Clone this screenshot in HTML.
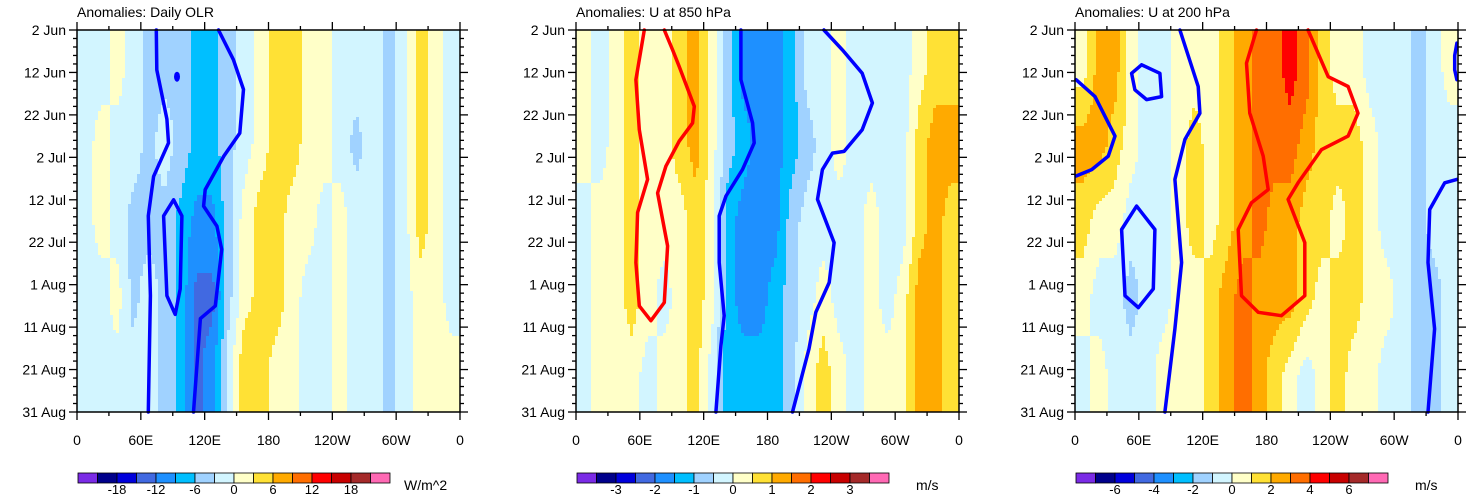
<!DOCTYPE html>
<html><head><meta charset="utf-8">
<style>
html,body{margin:0;padding:0;background:#fff;}
svg{display:block;font-family:"Liberation Sans",sans-serif;}
</style></head>
<body>
<svg id="chart" width="1473" height="498" viewBox="0 0 1473 498"></svg>
<script>
// ---- data ----
const dayTickLabels = ["2 Jun","12 Jun","22 Jun","2 Jul","12 Jul","22 Jul","1 Aug","11 Aug","21 Aug","31 Aug"];
const dayTicks = [0,10,20,30,40,50,60,70,80,90];
const lonTickLabels = ["0","60E","120E","180","120W","60W","0"];
const lonTicks = [0,60,120,180,240,300,360];
const panelTitles = ["Anomalies: Daily OLR","Anomalies: U at 850 hPa","Anomalies: U at 200 hPa"];
const panelUnits = ["W/m^2","m/s","m/s"];
const levelLow = [-21,-3.5,-7];
const levelStep = [3,0.5,1];
const cbarLabels1 = ["-18","-12","-6","0","6","12","18"];
const cbarLabels2 = ["-3","-2","-1","0","1","2","3"];
const cbarLabels3 = ["-6","-4","-2","0","2","4","6"];
const cbarLabelIdx = [1,3,5,7,9,11,13];
const palette = ["#7b2be6","#00008b","#0000dc","#4169e1","#1e90ff","#00bfff","#a0d2ff","#d2f5ff","#ffffc8","#ffe135","#ffaa00","#ff6e00","#ff0000","#c80000","#a52a2a","#ff69b4"];
// grid: rows = time (centers at day 9,27,45,63,81), columns = longitude (centers 7.5,22.5,...)
const olr = [
[-1.5,-1.5,1.5,-1.5,-4,-4,-4,-7,-7,-4,-1.5,1.5,4.5,6,1.5,1.5,-1.5,-1.5,-1.5,-4,-1.5,4.5,1.5,-1.5],
[-1.5,1.5,-1.5,-1.5,-4,-1.5,-4,-7,-7,-4,-1.5,1.5,4.5,4.5,1.5,1.5,-1.5,-4,-1.5,-4,-1.5,4.5,1.5,-1.5],
[-1.5,1.5,-1.5,-4,-4,-4,-7,-10,-10,-4,1.5,4.5,4.5,1.5,1.5,-1.5,1.5,-1.5,-1.5,-4,-1.5,4.5,1.5,-1.5],
[-1.5,-1.5,1.5,-4,-1.5,-4,-7,-13,-13,-4,1.5,4.5,4.5,1.5,-1.5,-1.5,1.5,-1.5,-1.5,-4,-1.5,1.5,1.5,-1.5],
[-1.5,-1.5,-1.5,-1.5,-1.5,-4,-7,-13,-10,-1.5,6,4.5,1.5,1.5,-1.5,-1.5,1.5,-1.5,-1.5,-4,-1.5,1.5,1.5,1.5]];
const u850 = [
[0.25,-0.25,0.25,0.75,0.25,0.25,0.75,1.25,0.25,-0.75,-1.75,-1.75,-1.75,-1.25,-0.25,-0.25,0.25,-0.25,-0.25,-0.25,-0.25,0.25,0.75,0.75],
[0.25,-0.25,0.25,0.75,0.25,0.25,0.75,1.25,0.25,-0.75,-1.25,-1.75,-1.75,-1.25,-0.75,-0.25,0.25,-0.25,-0.25,-0.25,-0.25,0.75,1.25,1.25],
[-0.25,0.25,0.25,0.75,0.25,0.25,0.25,0.75,0.25,-1.25,-1.75,-1.75,-1.75,-0.75,-0.25,-0.25,-0.25,-0.25,0.25,-0.25,-0.25,0.75,1.25,0.75],
[-0.25,0.25,0.25,0.75,0.25,-0.25,0.25,0.75,0.25,-1.25,-1.75,-1.75,-1.25,-0.75,-0.25,0.25,-0.25,-0.25,0.25,-0.25,0.25,1.25,1.25,0.75],
[-0.25,0.25,0.25,0.25,-0.25,0.25,0.25,0.75,-0.25,-1.25,-1.25,-1.25,-1.25,-0.75,0.25,0.75,0.25,-0.25,0.25,0.25,0.25,1.25,1.25,0.75]];
const u200 = [
[0.5,2.5,2.5,0.5,-0.5,-0.5,0.5,0.5,0.5,1.5,2.5,3.5,3.5,4.5,3.5,1.5,0.5,0.5,-0.5,-0.5,-0.5,-1.5,-0.5,0.5],
[2.5,2.5,1.5,0.5,-0.5,-0.5,0.5,1.5,0.5,1.5,2.5,3.5,3.5,3.5,2.5,1.5,1.5,1.5,0.5,-0.5,-0.5,-1.5,-0.5,-0.5],
[1.5,0.5,0.5,-0.5,-0.5,-0.5,0.5,1.5,0.5,1.5,2.5,3.5,2.5,2.5,1.5,1.5,0.5,1.5,0.5,-0.5,-0.5,-1.5,-0.5,-0.5],
[0.5,-0.5,-0.5,-1.5,-0.5,-0.5,0.5,0.5,1.5,2.5,3.5,2.5,2.5,2.5,1.5,0.5,1.5,1.5,0.5,0.5,-0.5,-1.5,-1.5,-0.5],
[-0.5,0.5,-0.5,-0.5,-0.5,0.5,0.5,0.5,1.5,2.5,3.5,2.5,1.5,0.5,-0.5,0.5,1.5,0.5,0.5,-0.5,-0.5,-1.5,-1.5,-0.5]];
// contour lines: [lon, day] pairs
const olrContourA = [[74.5,0],[75,9.4],[84.5,21],[86,26.6],[72,34.5],[67,43.8],[69,62.6],[67,90]];
const olrContourB = [[133,0],[147,7],[156.5,14],[153,24.3],[138,29.7],[120.5,37.6],[119,41.5],[131.5,46.2],[136,51.7],[130,65],[116,68],[109.5,90]];
const olrContourC = [[90.8,40],[98.6,43.8],[97,61],[92.3,67],[84.5,62.6],[81.4,43.8],[90.8,40]];
const u850Red = [[64.2,0],[56.3,11.7],[59.5,23.5],[67.3,35.2],[57.9,43],[56.3,54.8],[59.5,65],[70.4,68.5],[83,64.2],[86.1,50.9],[76.7,38.4],[84.5,32.1],[97,26.2],[109.6,21.9],[111.2,18],[97,8.6],[90.8,4.7],[83,0]];
const u850Blue1 = [[155,0],[155,11.7],[166,21.9],[167.5,26.6],[156.5,32.9],[141,39.1],[134.6,43.8],[134.6,54.8],[139.3,67.3],[136.2,74.4],[131.5,90]];
const u850Blue2 = [[233,0],[250.4,4.7],[269,10.2],[278.6,17.2],[269,23.5],[252,28.6],[241,29],[231.6,32.9],[227,39.9],[242.6,50.1],[238,59.5],[225.4,66.5],[219,75.1],[203.5,90]];
const u200Red = [[170.6,0],[161.2,7.8],[164.3,19.6],[176.9,29.7],[181.6,37.6],[165.9,40.7],[153.4,47],[156.5,62.6],[172.2,66.5],[194,67.3],[216,62.6],[216,50.1],[200.3,39.9],[209.7,36],[231.6,28.2],[256.7,25],[266,19.6],[256.7,13.3],[238,11],[219,0]];
const u200BlueW = [[1,11.7],[18.8,15.7],[37.6,25],[31.3,29.7],[15.7,32.9],[1,34.4]];
const u200BlueSmall = [[62.6,8.2],[79.8,10.2],[81.4,15.7],[67.3,16.4],[56.3,14.1],[53.2,10.2],[62.6,8.2]];
const u200BlueOval = [[57.9,41.5],[75.1,47],[73.6,61],[59.5,65.4],[47,62.6],[43.8,47],[57.9,41.5]];
const u200BlueMid = [[98.6,0],[115.8,13.3],[117.4,19.6],[103.3,25.8],[93.9,35.2],[100.2,54.8],[93.9,70.4],[84.5,90]];
const u200BlueE = [[359,35.2],[347.5,36],[333.4,42.3],[331.8,54.8],[338,70.4],[331.8,90]];
const u200BlueNE = [[359,3.1],[356.9,6],[356.9,9.4],[359,11.7]];

const grids = [olr,u850,u200];
const cbarLabels = [cbarLabels1,cbarLabels2,cbarLabels3];
const contours = [
  [{pts:olrContourA,c:"#0000ff",n:"olr-contour-west"},{pts:olrContourB,c:"#0000ff",n:"olr-contour-east"},{pts:olrContourC,c:"#0000ff",n:"olr-contour-closed"}],
  [{pts:u850Red,c:"#ff0000",n:"u850-positive-contour"},{pts:u850Blue1,c:"#0000ff",n:"u850-negative-contour-west"},{pts:u850Blue2,c:"#0000ff",n:"u850-negative-contour-east"}],
  [{pts:u200Red,c:"#ff0000",n:"u200-positive-contour"},{pts:u200BlueW,c:"#0000ff",n:"u200-contour-edge"},{pts:u200BlueSmall,c:"#0000ff",n:"u200-contour-small"},{pts:u200BlueOval,c:"#0000ff",n:"u200-contour-oval"},{pts:u200BlueMid,c:"#0000ff",n:"u200-contour-mid"},{pts:u200BlueE,c:"#0000ff",n:"u200-contour-east"},{pts:u200BlueNE,c:"#0000ff",n:"u200-contour-northeast"}]
];

// ---- layout ----
const NS="http://www.w3.org/2000/svg";
const svg=document.getElementById('chart');
const panelX=[77,576,1075], PW=383, Y0=30, PH=382;
function mk(tag,attrs,parent){const e=document.createElementNS(NS,tag);for(const k in attrs)e.setAttribute(k,attrs[k]);(parent||svg).appendChild(e);return e;}
function colorIdx(v,p){let b=Math.floor((v-levelLow[p])/levelStep[p])+1;return Math.max(0,Math.min(15,b));}
function sample(g,lon,day){
  let ci=(lon-7.5)/15, ri=(day-9)/18;
  ci=Math.max(0,Math.min(23,ci)); ri=Math.max(0,Math.min(4,ri));
  const c0=Math.floor(ci),c1=Math.min(23,c0+1),r0=Math.floor(ri),r1=Math.min(4,r0+1);
  const fc=ci-c0,fr=ri-r0;
  const a=g[r0][c0]*(1-fc)+g[r0][c1]*fc, b=g[r1][c0]*(1-fc)+g[r1][c1]*fc;
  return a*(1-fr)+b*fr;
}

for(let p=0;p<3;p++){
  const X0=panelX[p];
  const xs=lon=>X0+lon/360*PW;
  const ys=day=>Y0+day/90*PH;
  const g=mk('g',{},svg);
  
  
  const field=mk('g',{},g);
  
  
  const cs=3;
  for(let py=0;py<PH;py+=cs){
    const day=(py+cs/2)/PH*90;
    let runStart=0,runC=-1;
    for(let px=0;px<PW+cs;px+=cs){
      let c=-2;
      if(px<PW){const lon=Math.min(359.9,(px+cs/2)/PW*360);c=colorIdx(sample(grids[p],lon,day),p);}
      if(c!==runC){
        if(runC>=0){const r=mk('rect',{x:X0+runStart,y:Y0+py,width:Math.min(px,PW)-runStart+0.5,height:Math.min(cs,PH-py)+0.5,fill:palette[runC]},field);
          
          }
        runStart=px;runC=c;
      }
    }
  }
  // contours
  for(const ct of contours[p]){
    const d=ct.pts.map((q,i)=>(i?'L':'M')+xs(q[0]).toFixed(1)+','+ys(q[1]).toFixed(1)).join('');
    const path=mk('path',{d:d,fill:'none',stroke:ct.c,'stroke-width':3.5,'stroke-linejoin':'round','stroke-linecap':'round'},g);
    
    
  }
  if(p===0){const dot=mk('ellipse',{cx:xs(94),cy:ys(11),rx:3,ry:5,fill:'#0000ff'},g);
    
    }
  // frame
  const fr=mk('rect',{x:X0,y:Y0,width:PW,height:PH,fill:'none',stroke:'#000','stroke-width':1.5},g);
  
  
  // title
  const t=mk('text',{x:X0,y:17,'font-size':14,fill:'#000'},g);t.textContent=panelTitles[p];
  
  
  // y ticks
  for(let d=0;d<=90;d+=2){
    const major=dayTicks.includes(d);
    const L=major?8:4;
    mk('line',{x1:X0,x2:X0-L,y1:ys(d),y2:ys(d),stroke:'#000','stroke-width':1.3},g);
    mk('line',{x1:X0+PW,x2:X0+PW+L,y1:ys(d),y2:ys(d),stroke:'#000','stroke-width':1.3},g);
  }
  dayTicks.forEach((d,i)=>{
    const tx=mk('text',{x:X0-11,y:ys(d)+5,'font-size':14,'text-anchor':'end',fill:'#000'},g);
    tx.textContent=dayTickLabels[i];
    
    
  });
  // x ticks
  for(let lon=0;lon<=360;lon+=30){
    const major=lon%60===0;const L=major?8:4;
    mk('line',{x1:xs(lon),x2:xs(lon),y1:Y0+PH,y2:Y0+PH+L,stroke:'#000','stroke-width':1.3},g);
    mk('line',{x1:xs(lon),x2:xs(lon),y1:Y0,y2:Y0-L,stroke:'#000','stroke-width':1.3},g);
  }
  lonTicks.forEach((lon,i)=>{
    const tx=mk('text',{x:xs(lon),y:445,'font-size':14,'text-anchor':'middle',fill:'#000'},g);
    tx.textContent=lonTickLabels[i];
    
    
  });
  // colorbar
  const cb=mk('g',{},g);
  
  
  const cbx=X0+1,cbw=312,bw=cbw/16,cby=473,cbh=10;
  palette.forEach((c,i)=>{
    const r=mk('rect',{x:cbx+i*bw,y:cby,width:bw,height:cbh,fill:c,stroke:'#000','stroke-width':0.8},cb);
    
    
  });
  cbarLabelIdx.forEach((k,i)=>{
    const tx=mk('text',{x:cbx+bw*(k+1),y:494,'font-size':13,'text-anchor':'middle',fill:'#000'},cb);
    tx.textContent=cbarLabels[p][i];
    
    
  });
  const un=mk('text',{x:p===0?X0+327:X0+340,y:490,'font-size':14,fill:'#000'},cb);
  un.textContent=panelUnits[p];
  
  
}
</script>
</body></html>
